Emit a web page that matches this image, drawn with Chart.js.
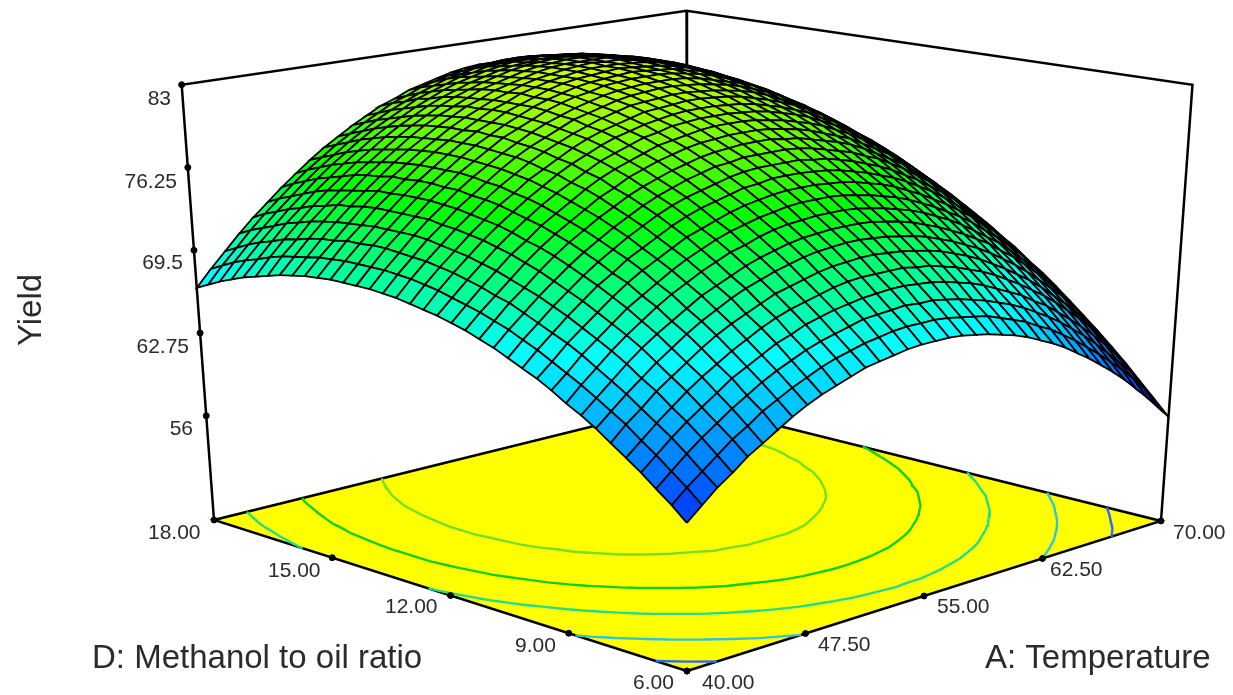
<!DOCTYPE html>
<html>
<head>
<meta charset="utf-8">
<style>html,body{margin:0;padding:0;background:#fff}canvas{display:block}</style>
<script src="https://cdn.jsdelivr.net/npm/chart.js@4/dist/chart.umd.min.js"></script>
</head>
<body>
<canvas id="c" width="1233" height="695"></canvas>
<script>
const tempTicks = [40, 47.5, 55, 62.5, 70];
const ratioTicks = [6, 9, 12, 15, 18];
const yieldTicks = [56, 62.75, 69.5, 76.25, 83];
const levels = [60.8, 65.1, 69.8, 73.9, 78.3];
const temps = [40, 40.83, 41.67, 42.5, 43.33, 44.17, 45, 45.83, 46.67, 47.5, 48.33, 49.17, 50, 50.83, 51.67, 52.5, 53.33, 54.17, 55, 55.83, 56.67, 57.5, 58.33, 59.17, 60, 60.83, 61.67, 62.5, 63.33, 64.17, 65, 65.83, 66.67, 67.5, 68.33, 69.17, 70];
const ratios = [6, 6.33, 6.67, 7, 7.33, 7.67, 8, 8.33, 8.67, 9, 9.33, 9.67, 10, 10.33, 10.67, 11, 11.33, 11.67, 12, 12.33, 12.67, 13, 13.33, 13.67, 14, 14.33, 14.67, 15, 15.33, 15.67, 16, 16.33, 16.67, 17, 17.33, 17.67, 18];
// yield, one row per ratio, one column per temperature
const rows = [
  [58.8,59.8,60.8,61.6,62.5,63.2,63.9,64.6,65.2,65.7,66.1,66.5,66.9,67.1,67.3,67.5,67.6,67.6,67.6,67.5,67.3,67.1,66.8,66.5,66.1,65.6,65.1,64.5,63.8,63.1,62.3,61.5,60.6,59.6,58.6,57.5,56.4],
  [59.8,60.8,61.7,62.6,63.5,64.2,65.0,65.6,66.2,66.7,67.2,67.6,67.9,68.2,68.4,68.6,68.7,68.7,68.7,68.6,68.4,68.2,68.0,67.6,67.2,66.8,66.2,65.7,65.0,64.3,63.5,62.7,61.8,60.9,59.9,58.8,57.6],
  [60.7,61.7,62.7,63.6,64.4,65.2,65.9,66.6,67.2,67.7,68.2,68.6,68.9,69.2,69.5,69.6,69.7,69.8,69.7,69.7,69.5,69.3,69.0,68.7,68.3,67.9,67.4,66.8,66.2,65.5,64.7,63.9,63.0,62.0,61.0,60.0,58.8],
  [61.6,62.6,63.6,64.5,65.3,66.1,66.9,67.5,68.1,68.7,69.1,69.6,69.9,70.2,70.4,70.6,70.7,70.8,70.8,70.7,70.6,70.4,70.1,69.8,69.4,68.9,68.4,67.9,67.2,66.6,65.8,65.0,64.1,63.2,62.2,61.1,60.0],
  [62.4,63.4,64.4,65.3,66.2,67.0,67.7,68.4,69.0,69.6,70.1,70.5,70.8,71.1,71.4,71.6,71.7,71.7,71.7,71.7,71.5,71.4,71.1,70.8,70.4,70.0,69.5,68.9,68.3,67.6,66.9,66.1,65.2,64.3,63.3,62.2,61.1],
  [63.2,64.3,65.2,66.2,67.0,67.8,68.6,69.3,69.9,70.4,70.9,71.4,71.7,72.0,72.3,72.5,72.6,72.7,72.7,72.6,72.5,72.3,72.1,71.8,71.4,71.0,70.5,69.9,69.3,68.6,67.9,67.1,66.2,65.3,64.3,63.3,62.2],
  [64.0,65.0,66.0,66.9,67.8,68.6,69.4,70.1,70.7,71.3,71.8,72.2,72.6,72.9,73.2,73.4,73.5,73.6,73.6,73.5,73.4,73.2,73.0,72.7,72.3,71.9,71.4,70.9,70.3,69.6,68.9,68.1,67.2,66.3,65.4,64.3,63.2],
  [64.7,65.7,66.7,67.7,68.6,69.4,70.1,70.8,71.5,72.0,72.5,73.0,73.4,73.7,74.0,74.2,74.3,74.4,74.4,74.4,74.3,74.1,73.9,73.6,73.2,72.8,72.3,71.8,71.2,70.6,69.8,69.1,68.2,67.3,66.3,65.3,64.2],
  [65.3,66.4,67.4,68.4,69.3,70.1,70.9,71.6,72.2,72.8,73.3,73.8,74.1,74.5,74.8,75.0,75.1,75.2,75.2,75.2,75.1,74.9,74.7,74.4,74.1,73.7,73.2,72.7,72.1,71.4,70.7,70.0,69.1,68.2,67.3,66.2,65.2],
  [66.0,67.0,68.1,69.0,69.9,70.8,71.5,72.2,72.9,73.5,74.0,74.5,74.9,75.2,75.5,75.7,75.9,76.0,76.0,76.0,75.9,75.7,75.5,75.2,74.9,74.5,74.0,73.5,72.9,72.3,71.6,70.8,70.0,69.1,68.2,67.1,66.1],
  [66.6,67.6,68.7,69.6,70.5,71.4,72.2,72.9,73.5,74.1,74.7,75.1,75.5,75.9,76.2,76.4,76.6,76.7,76.7,76.7,76.6,76.5,76.3,76.0,75.7,75.3,74.8,74.3,73.7,73.1,72.4,71.7,70.8,70.0,69.0,68.0,66.9],
  [67.1,68.2,69.2,70.2,71.1,72.0,72.7,73.5,74.1,74.7,75.3,75.8,76.2,76.5,76.8,77.1,77.2,77.4,77.4,77.4,77.3,77.2,77.0,76.7,76.4,76.0,75.6,75.1,74.5,73.9,73.2,72.4,71.6,70.7,69.8,68.8,67.8],
  [67.6,68.7,69.7,70.7,71.6,72.5,73.3,74.0,74.7,75.3,75.9,76.4,76.8,77.1,77.4,77.7,77.9,78.0,78.0,78.0,78.0,77.8,77.7,77.4,77.1,76.7,76.3,75.8,75.2,74.6,73.9,73.2,72.4,71.5,70.6,69.6,68.5],
  [68.1,69.2,70.2,71.2,72.1,73.0,73.8,74.5,75.2,75.8,76.4,76.9,77.3,77.7,78.0,78.3,78.4,78.6,78.6,78.6,78.6,78.5,78.3,78.0,77.7,77.4,76.9,76.5,75.9,75.3,74.6,73.9,73.1,72.2,71.3,70.3,69.3],
  [68.5,69.6,70.7,71.6,72.6,73.5,74.3,75.0,75.7,76.3,76.9,77.4,77.8,78.2,78.5,78.8,79.0,79.1,79.2,79.2,79.2,79.0,78.9,78.6,78.3,78.0,77.6,77.1,76.5,75.9,75.3,74.5,73.7,72.9,72.0,71.0,70.0],
  [68.9,70.0,71.0,72.0,73.0,73.9,74.7,75.4,76.1,76.8,77.3,77.9,78.3,78.7,79.0,79.3,79.5,79.6,79.7,79.7,79.7,79.6,79.4,79.2,78.9,78.5,78.1,77.7,77.1,76.5,75.9,75.1,74.4,73.5,72.6,71.6,70.6],
  [69.2,70.3,71.4,72.4,73.4,74.2,75.1,75.8,76.5,77.2,77.8,78.3,78.7,79.1,79.5,79.7,79.9,80.1,80.2,80.2,80.2,80.1,79.9,79.7,79.4,79.1,78.7,78.2,77.7,77.1,76.4,75.7,74.9,74.1,73.2,72.3,71.2],
  [69.5,70.6,71.7,72.7,73.7,74.6,75.4,76.2,76.9,77.5,78.1,78.7,79.1,79.5,79.9,80.1,80.4,80.5,80.6,80.6,80.6,80.5,80.4,80.2,79.9,79.6,79.2,78.7,78.2,77.6,77.0,76.2,75.5,74.7,73.8,72.8,71.8],
  [69.7,70.9,72.0,73.0,74.0,74.9,75.7,76.5,77.2,77.9,78.5,79.0,79.5,79.9,80.2,80.5,80.7,80.9,81.0,81.0,81.0,80.9,80.8,80.6,80.3,80.0,79.6,79.2,78.6,78.1,77.4,76.7,76.0,75.2,74.3,73.3,72.3],
  [69.9,71.1,72.2,73.2,74.2,75.1,76.0,76.7,77.5,78.1,78.7,79.3,79.8,80.2,80.5,80.8,81.1,81.2,81.3,81.4,81.4,81.3,81.2,81.0,80.7,80.4,80.0,79.6,79.1,78.5,77.9,77.2,76.4,75.6,74.7,73.8,72.8],
  [70.1,71.3,72.4,73.4,74.4,75.3,76.2,77.0,77.7,78.4,79.0,79.5,80.0,80.4,80.8,81.1,81.4,81.5,81.6,81.7,81.7,81.6,81.5,81.3,81.1,80.8,80.4,79.9,79.4,78.9,78.3,77.6,76.8,76.0,75.2,74.2,73.3],
  [70.2,71.4,72.5,73.6,74.5,75.5,76.3,77.1,77.9,78.6,79.2,79.7,80.2,80.7,81.0,81.3,81.6,81.8,81.9,82.0,82.0,81.9,81.8,81.6,81.4,81.1,80.7,80.3,79.8,79.2,78.6,77.9,77.2,76.4,75.6,74.6,73.7],
  [70.3,71.5,72.6,73.7,74.7,75.6,76.5,77.3,78.0,78.7,79.3,79.9,80.4,80.8,81.2,81.5,81.8,82.0,82.1,82.2,82.2,82.2,82.1,81.9,81.6,81.3,81.0,80.6,80.1,79.5,78.9,78.3,77.5,76.7,75.9,75.0,74.0],
  [70.3,71.5,72.7,73.7,74.7,75.7,76.5,77.4,78.1,78.8,79.5,80.0,80.5,81.0,81.4,81.7,81.9,82.2,82.3,82.4,82.4,82.4,82.3,82.1,81.9,81.6,81.2,80.8,80.3,79.8,79.2,78.5,77.8,77.0,76.2,75.3,74.3],
  [70.3,71.5,72.7,73.7,74.7,75.7,76.6,77.4,78.2,78.9,79.5,80.1,80.6,81.1,81.5,81.8,82.1,82.3,82.4,82.5,82.6,82.5,82.4,82.3,82.0,81.8,81.4,81.0,80.5,80.0,79.4,78.8,78.1,77.3,76.5,75.6,74.6],
  [70.3,71.5,72.6,73.7,74.7,75.7,76.6,77.4,78.2,78.9,79.6,80.1,80.7,81.1,81.5,81.9,82.2,82.4,82.5,82.6,82.7,82.6,82.5,82.4,82.2,81.9,81.6,81.2,80.7,80.2,79.6,79.0,78.3,77.5,76.7,75.8,74.8],
  [70.2,71.4,72.6,73.6,74.7,75.6,76.5,77.4,78.2,78.9,79.5,80.1,80.7,81.1,81.6,81.9,82.2,82.4,82.6,82.7,82.7,82.7,82.6,82.5,82.3,82.0,81.7,81.3,80.8,80.3,79.8,79.1,78.4,77.7,76.9,76.0,75.0],
  [70.1,71.3,72.4,73.5,74.6,75.6,76.5,77.3,78.1,78.8,79.5,80.1,80.6,81.1,81.5,81.9,82.2,82.4,82.6,82.7,82.8,82.7,82.7,82.5,82.3,82.1,81.8,81.4,80.9,80.4,79.9,79.2,78.5,77.8,77.0,76.1,75.2],
  [69.9,71.1,72.3,73.4,74.4,75.4,76.3,77.2,78.0,78.7,79.4,80.0,80.6,81.0,81.5,81.8,82.1,82.4,82.6,82.7,82.7,82.7,82.7,82.5,82.3,82.1,81.8,81.4,81.0,80.5,79.9,79.3,78.6,77.9,77.1,76.2,75.3],
  [69.7,70.9,72.1,73.2,74.3,75.2,76.2,77.0,77.8,78.6,79.3,79.9,80.4,80.9,81.4,81.7,82.0,82.3,82.5,82.6,82.7,82.7,82.6,82.5,82.3,82.1,81.8,81.4,81.0,80.5,79.9,79.3,78.7,77.9,77.1,76.3,75.3],
  [69.4,70.7,71.8,73.0,74.0,75.0,76.0,76.8,77.6,78.4,79.1,79.7,80.3,80.8,81.2,81.6,81.9,82.2,82.4,82.5,82.6,82.6,82.5,82.4,82.2,82.0,81.7,81.4,80.9,80.5,79.9,79.3,78.7,77.9,77.1,76.3,75.4],
  [69.1,70.4,71.6,72.7,73.8,74.8,75.7,76.6,77.4,78.2,78.9,79.5,80.1,80.6,81.0,81.4,81.7,82.0,82.2,82.3,82.4,82.4,82.4,82.3,82.1,81.9,81.6,81.3,80.9,80.4,79.8,79.2,78.6,77.9,77.1,76.2,75.3],
  [68.8,70.0,71.2,72.4,73.4,74.5,75.4,76.3,77.1,77.9,78.6,79.2,79.8,80.3,80.8,81.2,81.5,81.8,82.0,82.2,82.2,82.3,82.2,82.1,82.0,81.8,81.5,81.1,80.7,80.3,79.7,79.1,78.5,77.8,77.0,76.2,75.3],
  [68.4,69.7,70.9,72.0,73.1,74.1,75.1,76.0,76.8,77.6,78.3,78.9,79.5,80.1,80.5,80.9,81.3,81.5,81.8,81.9,82.0,82.0,82.0,81.9,81.8,81.6,81.3,81.0,80.6,80.1,79.6,79.0,78.4,77.7,76.9,76.1,75.2],
  [68.0,69.3,70.5,71.6,72.7,73.7,74.7,75.6,76.4,77.2,77.9,78.6,79.2,79.7,80.2,80.6,81.0,81.2,81.5,81.6,81.7,81.8,81.8,81.7,81.5,81.3,81.1,80.7,80.4,79.9,79.4,78.8,78.2,77.5,76.7,75.9,75.0],
  [67.5,68.8,70.0,71.2,72.3,73.3,74.3,75.2,76.0,76.8,77.5,78.2,78.8,79.4,79.8,80.3,80.6,80.9,81.1,81.3,81.4,81.5,81.5,81.4,81.3,81.1,80.8,80.5,80.1,79.7,79.2,78.6,78.0,77.3,76.5,75.7,74.8],
  [67.0,68.3,69.5,70.7,71.8,72.8,73.8,74.7,75.6,76.4,77.1,77.8,78.4,79.0,79.4,79.9,80.2,80.5,80.8,81.0,81.1,81.1,81.1,81.1,80.9,80.7,80.5,80.2,79.8,79.4,78.9,78.3,77.7,77.0,76.3,75.5,74.6],
];
const zFloor = 47.5, zTop = 83;
const contourColors = ["#2a6cff", "#2fc4dc", "#22dc8c", "#10d010", "#74e020"];

function project(t, d, y) {
  const u = (t - 40) / 30, v = (d - 6) / 12, h = (y - zFloor) / (zTop - zFloor);
  const w = 1 + 0.1392 * u + 0.1416 * v - 0.072 * h;
  return { x: (687 + 635.6 * u - 442.7 * v - 50 * h) / w, y: (671 - 77.5 * u - 77.4 * v - 503 * h) / w };
}
function between(a, b, f) {
  return { x: a.x + (b.x - a.x) * f, y: a.y + (b.y - a.y) * f };
}
function colorFor(z) {
  const stops = [[58, 0, 30, 255], [68, 0, 255, 255], [75.5, 0, 255, 0], [84, 235, 255, 0]];
  for (let k = 0; k < stops.length - 1; k++) {
    const a = stops[k], b = stops[k + 1];
    if (z <= b[0]) {
      const f = Math.max(0, (z - a[0]) / (b[0] - a[0]));
      return `rgb(${Math.round(a[1] + (b[1] - a[1]) * f)},${Math.round(a[2] + (b[2] - a[2]) * f)},${Math.round(a[3] + (b[3] - a[3]) * f)})`;
    }
  }
  return "rgb(235,255,0)";
}
const datasets = [];
function line(pts, opts) {
  datasets.push(Object.assign({ data: pts, showLine: true, pointRadius: 0, borderColor: "#000", borderWidth: 2.5, fill: false }, opts));
}
// surface, nearest cell first because the first dataset is painted last
const cells = [];
for (let j = 0; j < ratios.length - 1; j++) for (let i = 0; i < temps.length - 1; i++) cells.push([i, j]);
cells.sort((a, b) => a[0] + a[1] - b[0] - b[1]);
cells.forEach(([i, j]) => {
  const z = (rows[j][i] + rows[j][i + 1] + rows[j + 1][i] + rows[j + 1][i + 1]) / 4;
  line([
    project(temps[i], ratios[j], rows[j][i]),
    project(temps[i + 1], ratios[j], rows[j][i + 1]),
    project(temps[i + 1], ratios[j + 1], rows[j + 1][i + 1]),
    project(temps[i], ratios[j + 1], rows[j + 1][i]),
    project(temps[i], ratios[j], rows[j][i]),
  ], { fill: "shape", backgroundColor: colorFor(z), borderWidth: 1.8 });
});
// tick dots sit evenly along the box edges
const dots = [];
yieldTicks.forEach((y) => dots.push(between(project(40, 18, zFloor), project(40, 18, zTop), (y - zFloor) / (zTop - zFloor))));
tempTicks.forEach((t) => dots.push(between(project(40, 6, zFloor), project(70, 6, zFloor), (t - 40) / 30)));
ratioTicks.forEach((d) => dots.push(between(project(40, 6, zFloor), project(40, 18, zFloor), (d - 6) / 12)));
datasets.push({ data: dots, showLine: false, pointRadius: 3, backgroundColor: "#000", borderColor: "#000" });
// contours on the floor
levels.forEach((lv, n) => {
  const pts = [];
  for (let j = 0; j < ratios.length - 1; j++) for (let i = 0; i < temps.length - 1; i++) {
    const cs = [[i, j], [i + 1, j], [i + 1, j + 1], [i, j + 1]];
    const hit = [];
    for (let k = 0; k < 4; k++) {
      const a = cs[k], b = cs[(k + 1) % 4];
      const za = rows[a[1]][a[0]], zb = rows[b[1]][b[0]];
      if ((za < lv) !== (zb < lv)) {
        const f = (lv - za) / (zb - za);
        hit.push(project(temps[a[0]] + (temps[b[0]] - temps[a[0]]) * f, ratios[a[1]] + (ratios[b[1]] - ratios[a[1]]) * f, zFloor));
      }
    }
    if (hit.length >= 2) pts.push(hit[0], hit[1], { x: null, y: null });
  }
  line(pts, { borderColor: contourColors[n], borderWidth: 2.4 });
});
line([project(40, 18, zFloor), project(40, 18, zTop), project(70, 18, zTop), project(70, 6, zTop), project(70, 6, zFloor)], {});
line([project(70, 18, zTop), project(70, 18, zFloor)], {});
line([project(40, 6, zFloor), project(70, 6, zFloor), project(70, 18, zFloor), project(40, 18, zFloor), project(40, 6, zFloor)], { fill: "shape", backgroundColor: "#ffff00" });

const labels = {
  id: "labels",
  afterDraw(chart) {
    const ctx = chart.ctx;
    ctx.save();
    ctx.fillStyle = "#2b2b2b";
    ctx.textBaseline = "middle";
    ctx.font = "21px 'Liberation Sans'";
    ctx.textAlign = "right";
    yieldTicks.forEach((y, i) => ctx.fillText(String(y), [193, 189, 183, 177, 171][i], [429, 347, 263, 182, 99][i]));
    ctx.textAlign = "left";
    ratioTicks.forEach((d, i) => ctx.fillText(d.toFixed(2), [633, 515, 385, 268, 148][i], [683, 646, 607, 571, 533][i]));
    tempTicks.forEach((t, i) => ctx.fillText(t.toFixed(2), [702, 818, 937, 1050, 1173][i], [683, 645, 607, 570, 533][i]));
    ctx.textBaseline = "alphabetic";
    ctx.font = "33px 'Liberation Sans'";
    ctx.fillText("D: Methanol to oil ratio", 92, 668);
    ctx.fillText("A: Temperature", 985, 668);
    ctx.translate(41, 310);
    ctx.rotate(-Math.PI / 2);
    ctx.textAlign = "center";
    ctx.fillText("Yield", 0, 0);
    ctx.restore();
  },
};
new Chart(document.getElementById("c"), {
  type: "scatter",
  data: { datasets },
  options: {
    responsive: false,
    animation: false,
    events: [],
    layout: { padding: 0, autoPadding: false },
    plugins: { legend: { display: false }, tooltip: { enabled: false } },
    scales: {
      x: { type: "linear", min: 0, max: 1233, display: false },
      y: { type: "linear", min: 0, max: 695, reverse: true, display: false },
    },
  },
  plugins: [labels],
});
</script>
</body>
</html>
